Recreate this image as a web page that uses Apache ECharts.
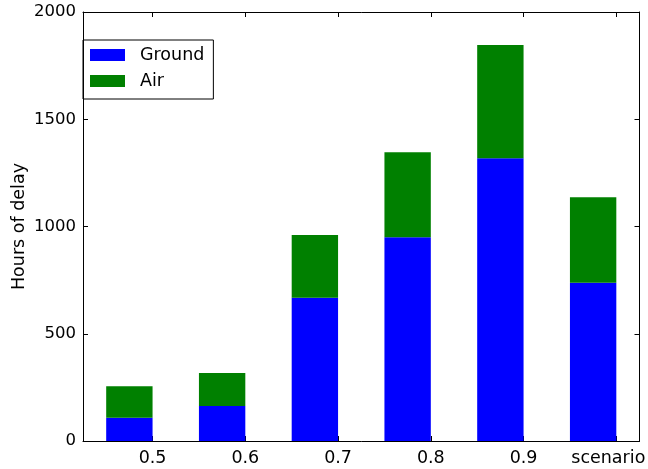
<!DOCTYPE html>
<html>
<head>
<meta charset="utf-8">
<script src="https://cdn.jsdelivr.net/npm/echarts@6/dist/echarts.min.js"></script>
<style>
  html, body { margin: 0; padding: 0; background: #fff; }
  #chart { width: 648px; height: 469px; }
</style>
</head>
<body>
<div id="chart"></div>
<script>
// Delay hours per load level, split into ground and air delay
const categories = ['0.5', '0.6', '0.7', '0.8', '0.9', 'scenario'];
const groundDelay = [108, 163, 668, 950, 1318, 738];
const airDelay = [147, 154, 292, 396, 528, 398];
const yTicks = [0, 500, 1000, 1500, 2000];

const FONT = 'DejaVu Sans';
const FS = 17.5;
const FS_Y = 16.5;

// bars sit at integer positions; tick marks sit at each bar's right edge
const tickPositions = categories.map((_, i) => i + 0.25);

function labelFor(v) {
  const idx = Math.round(v - 0.25);
  const name = categories[idx];
  return idx === categories.length - 1 ? '{s|' + name + '}' : name;
}

const chart = echarts.init(document.getElementById('chart'), null, { renderer: 'canvas' });

const xCommon = {
  type: 'value',
  min: -0.5,
  max: 5.5,
  splitLine: { show: false },
  axisLine: { show: true, onZero: false, lineStyle: { color: '#000', width: 1 } },
  axisTick: { show: true, inside: true, length: 5, customValues: tickPositions, lineStyle: { color: '#000' } }
};

const yCommon = {
  type: 'value',
  min: yTicks[0],
  max: yTicks[yTicks.length - 1],
  interval: yTicks[1] - yTicks[0],
  splitLine: { show: false },
  axisLine: { show: true, onZero: false, lineStyle: { color: '#000', width: 1 } },
  axisTick: { show: true, inside: true, length: 5, lineStyle: { color: '#000' } }
};

// value first, position second, so the stack runs along the delay values
function seriesData(values) {
  return values.map((v, i) => [v, i]);
}

chart.setOption({
  animation: false,
  backgroundColor: '#fff',
  textStyle: { fontFamily: FONT },
  grid: { left: 83, right: 8.5, top: 12, bottom: 28, containLabel: false, outerBoundsMode: 'none' },
  legend: {
    left: 83,
    top: 40,
    orient: 'vertical',
    data: ['Ground', 'Air'],
    itemWidth: 35,
    itemHeight: 12,
    itemGap: 8,
    borderColor: '#000',
    borderWidth: 1,
    borderRadius: 0,
    padding: [6, 9, 9, 7],
    textStyle: { fontFamily: FONT, fontSize: FS, color: '#000', padding: [0, 0, 0, 10] },
    icon: 'rect'
  },
  xAxis: [
    Object.assign({}, xCommon, {
      position: 'bottom',
      axisLabel: {
        show: true,
        customValues: tickPositions,
        formatter: labelFor,
        margin: 8,
        color: '#000',
        fontFamily: FONT,
        fontSize: FS,
        rich: { s: { fontFamily: FONT, fontSize: FS, color: '#000', padding: [0, 16, 0, 0] } }
      }
    }),
    Object.assign({}, xCommon, {
      position: 'top',
      axisLabel: { show: false }
    })
  ],
  yAxis: [
    Object.assign({}, yCommon, {
      position: 'left',
      name: 'Hours of delay',
      nameLocation: 'middle',
      nameGap: 55,
      nameMoveOverlap: false,
      nameTextStyle: { fontFamily: FONT, fontSize: FS, color: '#000' },
      axisLabel: {
        show: true, margin: 7, color: '#000', fontFamily: FONT, fontSize: FS_Y,
        formatter: (v) => String(v)
      }
    }),
    Object.assign({}, yCommon, {
      position: 'right',
      axisLabel: { show: false }
    })
  ],
  series: [
    {
      name: 'Ground',
      type: 'bar',
      stack: 'delay',
      xAxisIndex: 0,
      yAxisIndex: 0,
      barWidth: '50%',
      encode: { x: 1, y: 0 },
      itemStyle: { color: '#0000ff' },
      data: seriesData(groundDelay)
    },
    {
      name: 'Air',
      type: 'bar',
      stack: 'delay',
      xAxisIndex: 0,
      yAxisIndex: 0,
      barWidth: '50%',
      encode: { x: 1, y: 0 },
      itemStyle: { color: '#008000' },
      data: seriesData(airDelay)
    }
  ]
});
</script>
</body>
</html>
